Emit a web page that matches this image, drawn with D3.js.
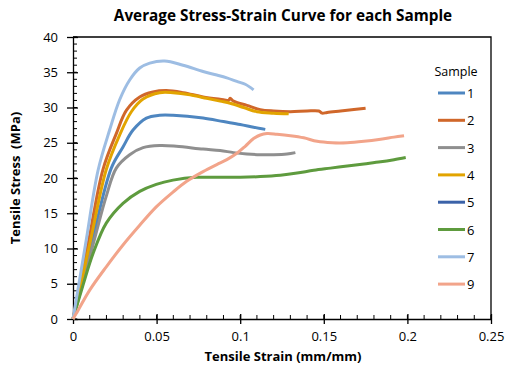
<!DOCTYPE html>
<html>
<head>
<meta charset="utf-8">
<script src="https://cdn.jsdelivr.net/npm/d3@7"></script>
<style>
  body { margin: 0; background: #fff; }
  text { font-family: "Open Sans", "Noto Sans", sans-serif; }
</style>
</head>
<body>
<div class="svg"></div>
<script>
// series names and colours (legend order)
var sampleNames = ["1", "2", "3", "4", "5", "6", "7", "9"];
var sampleColors = ["#4e86c0", "#d0672a", "#8f8f8f", "#e2a400", "#3b62a8", "#5e9b3e", "#9dbde3", "#f2a48a"];

// [strain, stress] points
var sample1 = [[0,0],[0.011,10.6],[0.0229,21.4],[0.0299,24.4],[0.0359,26.8],[0.0439,28.5],[0.0518,28.9],[0.0598,28.9],[0.0778,28.5],[0.09,28],[0.1,27.6],[0.108,27.2],[0.115,26.9]];
var sample2 = [[0,0],[0.009,10.6],[0.0179,21.2],[0.0259,26.3],[0.0319,29.6],[0.0399,31.5],[0.0478,32.2],[0.0558,32.4],[0.066,32.1],[0.0778,31.5],[0.09,31.1],[0.093,31],[0.094,31.3],[0.096,30.9],[0.104,30.3],[0.112,29.7],[0.12,29.5],[0.13,29.4],[0.14,29.5],[0.147,29.5],[0.149,29.2],[0.152,29.3],[0.16,29.5],[0.168,29.7],[0.175,29.9]];
var sample3 = [[0,0],[0.0125,11],[0.02,17.5],[0.0259,21.4],[0.0339,23.3],[0.0419,24.3],[0.0518,24.6],[0.0618,24.5],[0.0778,24.1],[0.088,23.9],[0.096,23.6],[0.104,23.4],[0.112,23.3],[0.12,23.3],[0.128,23.4],[0.133,23.6]];
var sample4 = [[0,0],[0.01,10.6],[0.0199,21.2],[0.0279,26.1],[0.0349,29.4],[0.0419,31.2],[0.0518,32.1],[0.0598,32.1],[0.07,31.8],[0.08,31.3],[0.088,30.9],[0.094,30.6],[0.102,30],[0.11,29.4],[0.12,29.2],[0.129,29.1]];
var sample5 = [];
var sample6 = [[0,0],[0.006,4.8],[0.012,9.3],[0.0199,13.6],[0.0299,16.4],[0.0399,18.1],[0.0498,19.1],[0.0598,19.7],[0.0738,20.1],[0.085,20.1],[0.1,20.1],[0.112,20.2],[0.124,20.4],[0.134,20.7],[0.144,21.1],[0.154,21.4],[0.164,21.7],[0.174,22],[0.184,22.3],[0.192,22.6],[0.199,22.9]];
var sample7 = [[0,0],[0.0075,10.6],[0.015,21.1],[0.0219,26.8],[0.0279,31.1],[0.0339,33.9],[0.0399,35.6],[0.0459,36.3],[0.0548,36.6],[0.0658,36],[0.0778,35.1],[0.086,34.6],[0.092,34.2],[0.098,33.7],[0.103,33.3],[0.108,32.5]];
var sample9 = [[0,0],[0.002,0.8],[0.01,4.1],[0.0199,7.4],[0.0299,10.5],[0.0399,13.3],[0.0498,15.9],[0.0598,18],[0.0678,19.5],[0.0778,20.9],[0.086,21.9],[0.092,22.6],[0.098,23.5],[0.103,24.5],[0.108,25.6],[0.112,26.1],[0.116,26.3],[0.122,26.2],[0.13,26],[0.138,25.7],[0.146,25.2],[0.155,25],[0.164,25],[0.174,25.2],[0.184,25.5],[0.192,25.8],[0.198,26]];
var allSamples = [sample1, sample2, sample3, sample4, sample5, sample6, sample7, sample9];

var xTicks = [0, 0.05, 0.1, 0.15, 0.2, 0.25];
var yTicks = [0, 5, 10, 15, 20, 25, 30, 35, 40];

var chartWidth = 516, chartHeight = 372;
var plotLeft = 73, plotRight = 491, plotTop = 37, plotBottom = 319;

var svg = d3.select(".svg").append("svg").attr("width", chartWidth).attr("height", chartHeight);

var x = d3.scaleLinear().domain([0, 0.25]).range([plotLeft, plotRight]);
var y = d3.scaleLinear().domain([0, 40]).range([plotBottom, plotTop]);

// plot frame (top and right edges)
svg.append("path").attr("d", "M" + plotLeft + "," + plotTop + "H" + plotRight + "V" + plotBottom)
    .attr("fill", "none").attr("stroke", "#000").attr("stroke-width", 1.3);

// minor ticks point inward
var xMinor = d3.range(0, 0.2501, 0.01);
var yMinor = d3.range(0, 40.01, 1);
svg.append("g").selectAll("line").data(xMinor).enter().append("line")
    .attr("x1", d => x(d)).attr("x2", d => x(d)).attr("y1", plotBottom).attr("y2", plotBottom - 4)
    .attr("stroke", "#000").attr("stroke-width", 1);
svg.append("g").selectAll("line").data(yMinor).enter().append("line")
    .attr("x1", plotLeft).attr("x2", plotLeft + 4).attr("y1", d => y(d)).attr("y2", d => y(d))
    .attr("stroke", "#000").attr("stroke-width", 1);

// major ticks cross the axis
var xAxis = svg.append("g").attr("transform", "translate(0," + plotBottom + ")")
    .call(d3.axisBottom(x).tickValues(xTicks).tickFormat(d3.format("")).tickSize(5).tickSizeOuter(0));
xAxis.selectAll(".tick line").attr("y1", -5).attr("stroke-width", 1.3);
xAxis.select(".domain").attr("stroke-width", 1.3);
xAxis.selectAll("text").attr("font-size", "13px").attr("fill", "#000").attr("dy", "1.05em");

var yAxis = svg.append("g").attr("transform", "translate(" + plotLeft + ",0)")
    .call(d3.axisLeft(y).tickValues(yTicks).tickSize(6).tickSizeOuter(0));
yAxis.selectAll(".tick line").attr("x1", 5).attr("stroke-width", 1.3);
yAxis.select(".domain").attr("stroke-width", 1.3);
yAxis.selectAll("text").attr("font-size", "13px").attr("fill", "#000").attr("x", -15);
svg.selectAll(".domain").attr("stroke", "#000");
svg.selectAll(".tick line").attr("stroke", "#000");

// curves
var line = d3.line().x(d => x(d[0])).y(d => y(d[1])).curve(d3.curveCatmullRom.alpha(0.5));
svg.append("g").selectAll("path").data(allSamples).enter().append("path")
    .attr("d", d => d.length ? line(d) : null)
    .attr("fill", "none")
    .attr("stroke", (d, i) => sampleColors[i])
    .attr("stroke-width", 3)
    .attr("stroke-linejoin", "round");

// titles
svg.append("text").attr("x", 283).attr("y", 21).attr("text-anchor", "middle")
    .attr("font-size", "15.3px").attr("font-weight", "bold").text("Average Stress-Strain Curve for each Sample");
svg.append("text").attr("x", 283).attr("y", 361).attr("text-anchor", "middle")
    .attr("font-size", "13px").attr("font-weight", "bold").text("Tensile Strain (mm/mm)");
svg.append("text").attr("transform", "translate(20,178) rotate(-90)").attr("text-anchor", "middle")
    .attr("font-size", "13px").attr("font-weight", "bold").attr("xml:space", "preserve").text("Tensile Stress  (MPa)");

// legend
var legend = svg.append("g");
legend.append("text").attr("x", 456).attr("y", 76).attr("text-anchor", "middle")
    .attr("font-size", "12.5px").text("Sample");
var items = legend.selectAll("g.item").data(sampleNames).enter().append("g")
    .attr("transform", (d, i) => "translate(438," + (93 + i * 27.3) + ")");
items.append("line").attr("x1", 0).attr("x2", 27).attr("y1", 0).attr("y2", 0)
    .attr("stroke", (d, i) => sampleColors[i]).attr("stroke-width", 3);
items.append("text").attr("x", 29).attr("y", 5).attr("font-size", "13px").text(d => d);
</script>
</body>
</html>
